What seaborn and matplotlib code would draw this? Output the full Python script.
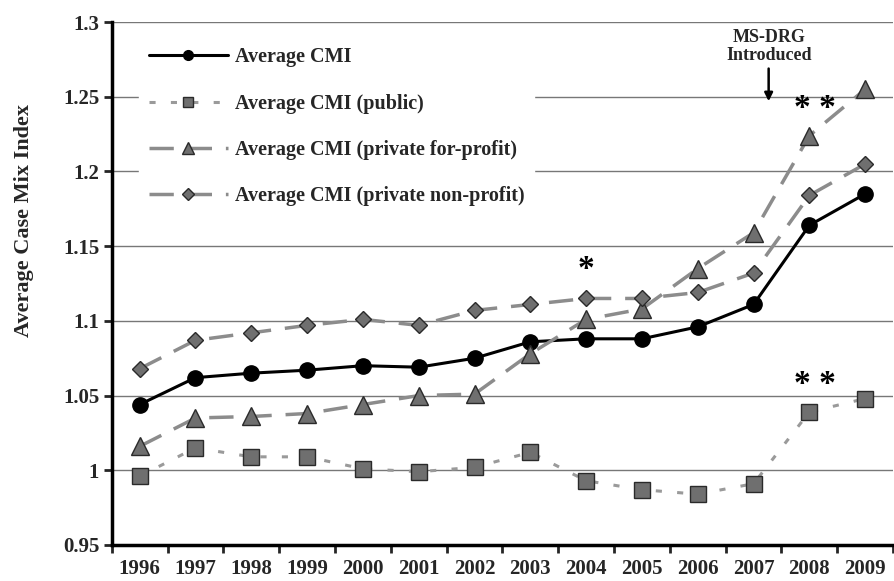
import pandas as pd
import numpy as np
import matplotlib
matplotlib.use("Agg")
import matplotlib.pyplot as plt
import seaborn as sns

# data
years = ["1996", "1997", "1998", "1999", "2000", "2001", "2002",
         "2003", "2004", "2005", "2006", "2007", "2008", "2009"]
cmi_all = [1.044, 1.062, 1.065, 1.067, 1.070, 1.069, 1.075,
           1.086, 1.088, 1.088, 1.096, 1.111, 1.164, 1.185]
cmi_public = [0.996, 1.015, 1.009, 1.009, 1.001, 0.999, 1.002,
              1.012, 0.993, 0.987, 0.984, 0.991, 1.039, 1.048]
cmi_forprofit = [1.016, 1.035, 1.036, 1.038, 1.044, 1.050, 1.051,
                 1.078, 1.101, 1.108, 1.135, 1.159, 1.224, 1.255]
cmi_nonprofit = [1.068, 1.087, 1.092, 1.097, 1.101, 1.097, 1.107,
                 1.111, 1.115, 1.115, 1.119, 1.132, 1.184, 1.205]
y_ticks = [0.95, 1.0, 1.05, 1.1, 1.15, 1.2, 1.25, 1.3]
y_tick_labels = ["0.95", "1", "1.05", "1.1", "1.15", "1.2", "1.25", "1.3"]

sns.set_theme(style="white")
plt.rcParams["font.family"] = ["Liberation Serif", "DejaVu Serif"]
plt.rcParams["font.weight"] = "bold"

fig, ax = plt.subplots(figsize=(8.94, 5.81), dpi=100)
fig.subplots_adjust(left=0.125, right=0.999, bottom=0.062, top=0.962)

line_gray = "#8c8c8c"
face_gray = "#6f6f6f"
edge = "#2a2a2a"

series = [
    ("Average CMI", cmi_all, dict(color="black", lw=2.2, marker="o", ms=11,
                                  mfc="black", mec="black", ls="-")),
    ("Average CMI (public)", cmi_public, dict(color="#9a9a9a", lw=2.2, marker="s", ms=12,
                                              mfc=face_gray, mec=edge, mew=1.0,
                                              ls=(0, (2, 5)))),
    ("Average CMI (private for-profit)", cmi_forprofit, dict(color=line_gray, lw=2.5, marker="^", ms=13,
                                                             mfc=face_gray, mec=edge, mew=1.0,
                                                             ls=(0, (7, 4)))),
    ("Average CMI (private non-profit)", cmi_nonprofit, dict(color=line_gray, lw=2.5, marker="D", ms=8.5,
                                                             mfc=face_gray, mec=edge, mew=1.0,
                                                             ls=(0, (7, 4)))),
]

for name, vals, st in series:
    df = pd.DataFrame({"year": years, "cmi": vals})
    sns.lineplot(data=df, x="year", y="cmi", ax=ax, label=name, sort=False,
                 color=st["color"], linewidth=st["lw"], linestyle=st["ls"],
                 marker=st["marker"], markersize=st["ms"],
                 markerfacecolor=st["mfc"], markeredgecolor=st["mec"],
                 markeredgewidth=st.get("mew", 1.0), zorder=3)

ax.set_xlim(-0.5, len(years) - 0.5)
ax.set_ylim(0.95, 1.3)
ax.set_yticks(y_ticks)
ax.set_yticklabels(y_tick_labels)
ax.set_xticks(range(len(years)))
ax.set_xticklabels(years)
ax.set_xticks(np.arange(-0.5, len(years), 1.0), minor=True)
ax.tick_params(axis="x", which="major", length=0, pad=10, labelsize=15)
ax.tick_params(axis="x", which="minor", length=6, width=2, direction="out", bottom=True)
ax.tick_params(axis="y", length=6, width=2, direction="out", left=True, pad=3, labelsize=15)
for lab in ax.get_xticklabels() + ax.get_yticklabels():
    lab.set_fontweight("bold")

ax.grid(axis="y", color="#777777", linewidth=1.0)
ax.grid(axis="x", visible=False)
ax.set_axisbelow(True)
for s in ["top", "right"]:
    ax.spines[s].set_visible(False)
for s in ["left", "bottom"]:
    ax.spines[s].set_color("black")
    ax.spines[s].set_linewidth(2.5)

ax.set_xlabel("")
ax.set_ylabel("Average Case Mix Index", fontsize=16, fontweight="bold")
ax.yaxis.set_label_coords(-0.1, 0.62)

leg = ax.legend(loc="upper left", bbox_to_anchor=(0.022, 0.99), frameon=True,
                fancybox=False, framealpha=1, edgecolor="white", facecolor="white",
                handlelength=3.9, handletextpad=0.35, labelspacing=1.3, borderpad=0.5,
                prop={"family": "Liberation Serif", "weight": "bold", "size": 14.5})
leg.set_zorder(5)
# legend markers are drawn smaller than the plot markers
for h, size in zip(leg.get_lines(), [7, 7.5, 9, 6]):
    h.set_markersize(size)

# annotations
ax.annotate("MS-DRG\nIntroduced", xy=(11.27, 1.247), xytext=(11.27, 1.272),
            ha="center", va="bottom", fontsize=13, fontweight="bold", linespacing=1.1,
            arrowprops=dict(arrowstyle="-|>", color="black", lw=1.8, mutation_scale=12,
                            shrinkA=1, shrinkB=0))
ax.text(8, 1.124, "*", ha="center", va="bottom", fontsize=24, color="black")
ax.text(12.1, 1.232, "* *", ha="center", va="bottom", fontsize=24, color="black")
ax.text(12.1, 1.047, "* *", ha="center", va="bottom", fontsize=24, color="black")

fig.savefig("out.png", dpi=100)
